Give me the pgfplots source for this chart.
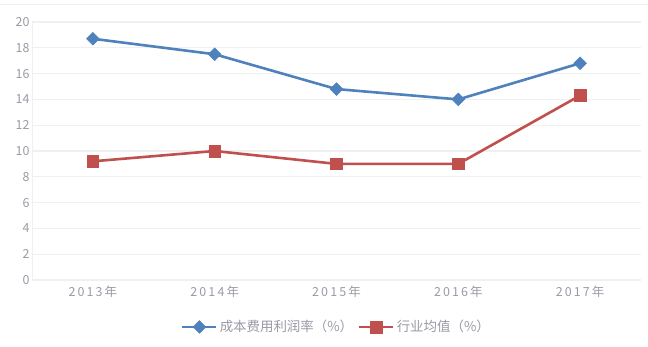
\documentclass[border=0pt]{standalone}
\usepackage{pgfplots}
\pgfplotsset{compat=1.18}
\usepackage{fontspec}
\setmainfont{Noto Sans CJK SC}
\definecolor{cblue}{HTML}{4F81BD}
\definecolor{cred}{HTML}{C0504D}
\definecolor{tickc}{HTML}{9A9AA6}
\definecolor{gridc}{HTML}{F0F0F0}
\begin{document}
\begin{tikzpicture}
\path[use as bounding box] (0,0) rectangle (648bp,347bp);
\draw[gridc, line width=1bp] (0,342bp) -- (648bp,342bp);
\begin{axis}[
  at={(32bp,67bp)}, anchor=south west,
  scale only axis, width=609bp, height=258bp,
  xmin=-0.5, xmax=4.5, ymin=0, ymax=20,
  xtick={0,1,2,3,4},
  xticklabels={2013年,2014年,2015年,2016年,2017年},
  ytick={0,2,...,20},
  ymajorgrids, grid style={gridc, line width=1.2bp},
  axis line style={draw=none},
  axis x line*=bottom, axis y line*=left,
  major tick length=0pt,
  tick label style={font=\fontsize{12.5}{14}\selectfont, text=tickc},
  xticklabel style={yshift=-2bp, font=\fontsize{12.5}{14}\selectfont\addfontfeatures{LetterSpace=17}},
  yticklabel style={xshift=1bp},
  /pgf/number format/assume math mode=true,
  legend style={at={(0.5,-0.182)}, anchor=center, draw=none, legend columns=2,
    font=\fontsize{13.5}{15}\selectfont, text=tickc,
    /tikz/every even column/.append style={column sep=3bp}},
  legend cell align=left,
  legend image code/.code={
    \draw[#1] (0cm,0cm) -- (0.6cm,0cm) -- (1.2cm,0cm);
    \draw[#1, only marks] plot coordinates {(0.6cm,0cm)};
  },
]
\draw[gridc, line width=1.2bp] (axis cs:-0.5,0) -- (axis cs:-0.5,20);
\draw[gridc, line width=1.2bp] (axis cs:-0.5,0) -- (axis cs:4.5,0);
\addplot[cblue, line width=2.6bp, mark=square*, mark size=4.5bp, mark options={fill=cblue, line width=0.5bp, rotate=45}]
  coordinates {(0,18.7) (1,17.5) (2,14.8) (3,14.0) (4,16.8)};
\addlegendentry{成本费用利润率（\%）}
\addplot[cred, line width=2.6bp, mark=square*, mark size=5.8bp, mark options={fill=cred, line width=0.5bp}]
  coordinates {(0,9.2) (1,10.0) (2,9.0) (3,9.0) (4,14.3)};
\addlegendentry{行业均值（\%）}
\end{axis}
\end{tikzpicture}
\end{document}
